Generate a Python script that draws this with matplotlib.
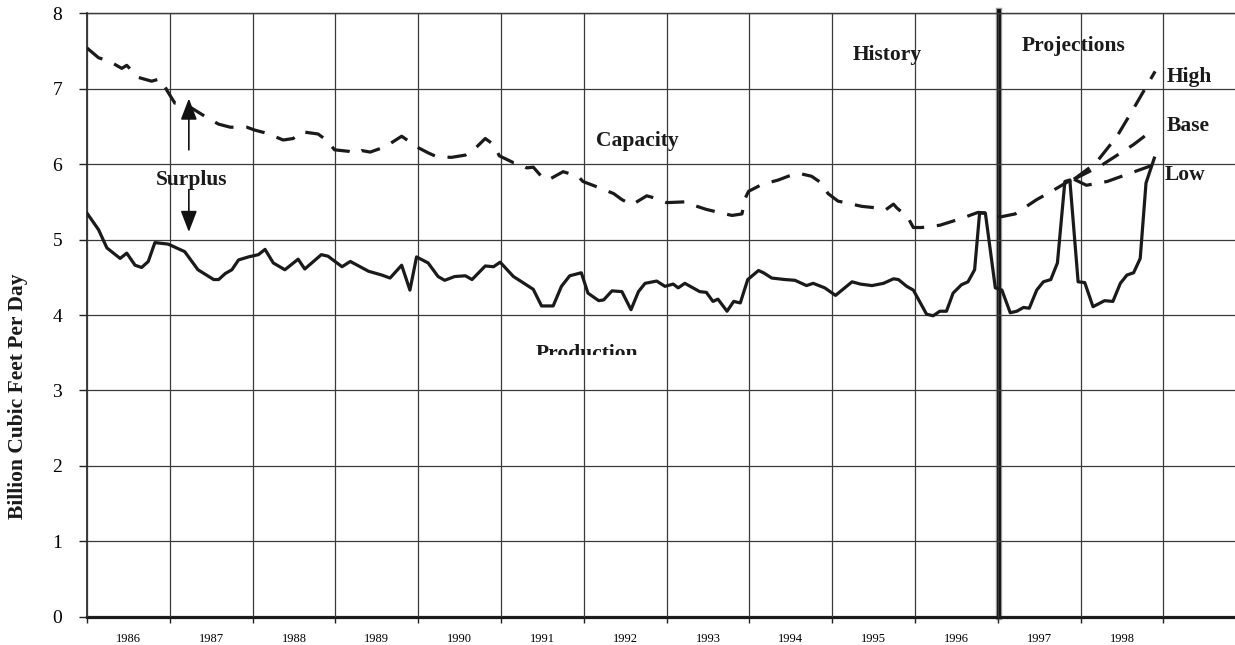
import matplotlib
matplotlib.use("Agg")
import matplotlib.pyplot as plt
from matplotlib.transforms import Bbox, TransformedBbox

plt.rcParams['font.family'] = ['Liberation Serif', 'DejaVu Serif']

# ---------------- data ----------------
prod_year = [1986.00, 1986.14, 1986.24, 1986.40, 1986.48, 1986.58, 1986.66, 1986.74, 1986.82, 1986.98,
             1987.10, 1987.18, 1987.34, 1987.53, 1987.59, 1987.67, 1987.75, 1987.83, 1987.95,
             1988.07, 1988.15, 1988.25, 1988.39, 1988.55, 1988.63, 1988.83, 1988.91,
             1989.08, 1989.18, 1989.40, 1989.56, 1989.66, 1989.80, 1989.90, 1989.98,
             1990.12, 1990.24, 1990.32, 1990.44, 1990.57, 1990.65, 1990.81, 1990.91, 1990.99,
             1991.15, 1991.25, 1991.39, 1991.49, 1991.63, 1991.73, 1991.83, 1991.97,
             1992.05, 1992.18, 1992.24, 1992.34, 1992.46, 1992.57, 1992.66, 1992.74, 1992.88, 1992.98,
             1993.08, 1993.14, 1993.22, 1993.40, 1993.48, 1993.56, 1993.62, 1993.73, 1993.81, 1993.89, 1993.98,
             1994.11, 1994.17, 1994.27, 1994.43, 1994.55, 1994.69, 1994.77, 1994.91,
             1995.04, 1995.24, 1995.34, 1995.48, 1995.62, 1995.74, 1995.80, 1995.90, 1995.98,
             1996.14, 1996.22, 1996.30, 1996.38, 1996.46, 1996.56, 1996.64, 1996.72, 1996.78, 1996.85, 1996.97,
             1997.05, 1997.15, 1997.23, 1997.31, 1997.38, 1997.47, 1997.55, 1997.64, 1997.72, 1997.81, 1997.87, 1997.97,
             1998.05, 1998.15, 1998.29, 1998.39, 1998.48, 1998.56, 1998.64, 1998.72, 1998.79, 1998.89]
prod_value = [5.35, 5.13, 4.89, 4.75, 4.82, 4.66, 4.63, 4.71, 4.96, 4.94,
              4.88, 4.84, 4.60, 4.47, 4.47, 4.55, 4.60, 4.73, 4.77,
              4.80, 4.87, 4.69, 4.60, 4.74, 4.61, 4.80, 4.78,
              4.64, 4.71, 4.58, 4.53, 4.49, 4.66, 4.33, 4.77,
              4.69, 4.51, 4.46, 4.51, 4.52, 4.47, 4.65, 4.64, 4.70,
              4.51, 4.44, 4.34, 4.12, 4.12, 4.38, 4.52, 4.56,
              4.29, 4.19, 4.20, 4.32, 4.31, 4.07, 4.31, 4.42, 4.45, 4.38,
              4.41, 4.36, 4.42, 4.31, 4.30, 4.18, 4.21, 4.05, 4.18, 4.16, 4.47,
              4.59, 4.56, 4.49, 4.47, 4.46, 4.39, 4.42, 4.36,
              4.26, 4.44, 4.41, 4.39, 4.42, 4.48, 4.47, 4.38, 4.33,
              4.01, 3.99, 4.05, 4.05, 4.29, 4.40, 4.44, 4.60, 5.35, 5.35, 4.36,
              4.33, 4.03, 4.05, 4.10, 4.09, 4.33, 4.44, 4.47, 4.69, 5.77, 5.79, 4.44,
              4.43, 4.11, 4.19, 4.18, 4.42, 4.53, 4.56, 4.75, 5.75, 6.08]

cap_year = [1986.00, 1986.14, 1986.26, 1986.42, 1986.48, 1986.62, 1986.78, 1986.88, 1986.92, 1986.97,
            1987.06, 1987.18, 1987.46, 1987.59, 1987.73, 1987.93,
            1988.03, 1988.17, 1988.37, 1988.49, 1988.59, 1988.79, 1988.89, 1988.99,
            1989.16, 1989.24, 1989.32, 1989.42, 1989.60, 1989.80, 1989.84, 1989.98,
            1990.12, 1990.22, 1990.40, 1990.57, 1990.68, 1990.81, 1990.91, 1990.98,
            1991.15, 1991.23, 1991.31, 1991.39, 1991.51, 1991.57, 1991.75, 1991.93, 1991.99,
            1992.18, 1992.36, 1992.46, 1992.58, 1992.76, 1992.86, 1993.00,
            1993.22, 1993.34, 1993.48, 1993.67, 1993.79, 1993.91, 1993.95, 1993.99,
            1994.15, 1994.35, 1994.47, 1994.59, 1994.75, 1994.87, 1994.95,
            1995.07, 1995.36, 1995.54, 1995.64, 1995.74, 1995.78, 1995.91, 1995.98,
            1996.08, 1996.30, 1996.56, 1996.76, 1996.91,
            1997.03, 1997.21, 1997.47, 1997.65, 1997.85, 1997.92]
cap_value = [7.54, 7.41, 7.37, 7.27, 7.31, 7.15, 7.10, 7.13, 7.07, 6.97,
             6.81, 6.80, 6.61, 6.53, 6.49, 6.49,
             6.45, 6.41, 6.32, 6.34, 6.43, 6.40, 6.32, 6.19,
             6.17, 6.14, 6.18, 6.16, 6.23, 6.37, 6.34, 6.23,
             6.15, 6.10, 6.09, 6.12, 6.20, 6.34, 6.26, 6.11,
             6.02, 6.01, 5.95, 5.96, 5.81, 5.79, 5.90, 5.84, 5.77,
             5.69, 5.61, 5.53, 5.46, 5.58, 5.55, 5.49,
             5.50, 5.45, 5.40, 5.35, 5.32, 5.34, 5.55, 5.64,
             5.73, 5.79, 5.84, 5.88, 5.84, 5.75, 5.61,
             5.51, 5.44, 5.42, 5.39, 5.47, 5.42, 5.30, 5.16,
             5.16, 5.19, 5.28, 5.36, 5.35,
             5.30, 5.34, 5.53, 5.64, 5.77, 5.80]

high_year = [1997.92, 1998.18, 1998.44, 1998.62, 1998.90]
high_value = [5.80, 6.01, 6.37, 6.70, 7.23]
base_year = [1997.92, 1998.26, 1998.64, 1998.88]
base_value = [5.80, 5.99, 6.26, 6.46]
low_year = [1997.92, 1998.07, 1998.32, 1998.60, 1998.88]
low_value = [5.80, 5.72, 5.77, 5.88, 5.99]

years = list(range(1986, 1999))
y_ticks = [0, 1, 2, 3, 4, 5, 6, 7, 8]
divider_year = 1997.02

# ---------------- figure ----------------
W, H = 1235, 645
fig = plt.figure(figsize=(W / 100, H / 100), dpi=100)
ax = fig.add_axes([87 / W, (H - 616.7) / H, (W - 87) / W, (616.7 - 13.3) / H])

ax.set_xlim(1986, 1986 + (W - 87) / 82.8)
ax.set_ylim(0, 8)

grid_color = '#3a3a3a'
ax.set_axisbelow(False)
ax.set_yticks(y_ticks)
ax.set_yticklabels([str(v) for v in y_ticks], fontsize=14)
ax.set_xticks(list(range(1986, 2000)))
ax.set_xticklabels([])
ax.set_xticks([y + 0.5 for y in years], minor=True)
ax.set_xticklabels([str(y) for y in years], minor=True, fontsize=9)
ax.tick_params(axis='y', direction='out', length=6, width=1, pad=12, color='#222222')
ax.tick_params(axis='x', which='major', direction='out', length=4, width=1, color='#222222')
ax.tick_params(axis='x', which='minor', length=0, pad=12)
ax.grid(True, which='major', color=grid_color, linewidth=0.9, zorder=1.5)

ax.spines['right'].set_visible(False)
ax.spines['top'].set_linewidth(1.0)
ax.spines['left'].set_linewidth(1.2)
ax.spines['bottom'].set_linewidth(2.3)
for s in ax.spines.values():
    s.set_color('#1a1a1a')

# divider between history and projections
ax.axvline(divider_year, ymin=0, ymax=1.003, color='#9a9a9a', lw=4.6, clip_on=False, zorder=2)
ax.axvline(divider_year, ymin=0, ymax=1.003, color='#111111', lw=2.8, clip_on=False, zorder=2.1)

line_kw = dict(color='#1a1a1a', lw=2.3, solid_joinstyle='round', zorder=3)
dash = (0, (6, 4))
ax.plot(prod_year, prod_value, **line_kw)
ax.plot(cap_year, cap_value, linestyle=dash, **line_kw)
ax.plot(high_year, high_value, linestyle=dash, **line_kw)
ax.plot(base_year, base_value, linestyle=dash, **line_kw)
ax.plot(low_year, low_value, linestyle=dash, **line_kw)

# labels
tk = dict(fontsize=15.5, fontweight='bold', color='#1a1a1a', ha='center', va='center', zorder=4)
ax.text(1987.26, 5.79, 'Surplus', **tk)
ax.text(1992.65, 6.31, 'Capacity', **tk)
ax.text(1995.67, 7.45, 'History', **tk)
ax.text(1997.91, 7.56, 'Projections', **tk)
ax.text(1999.31, 7.16, 'High', **tk)
ax.text(1999.30, 6.51, 'Base', **tk)
ax.text(1999.26, 5.86, 'Low', **tk)
t = ax.text(1992.04, 3.42, 'Production', fontsize=15.5, fontweight='bold', color='#1a1a1a',
            ha='center', va='baseline', zorder=4)
t.set_clip_box(TransformedBbox(Bbox([[1990.5, 3.47], [1994.0, 8]]), ax.transData))
t.set_clip_on(True)

# surplus arrows
akw = dict(arrowstyle='-|>,head_length=1.3,head_width=0.5', color='#111111', lw=1.2,
           shrinkA=0, shrinkB=0)
ax.annotate('', xy=(1987.23, 6.87), xytext=(1987.23, 6.19), arrowprops=akw, zorder=4)
ax.annotate('', xy=(1987.23, 5.10), xytext=(1987.23, 5.66), arrowprops=akw, zorder=4)

fig.text(18 / W, (H - 396) / H, 'Billion Cubic Feet Per Day', rotation=90, fontsize=15.5,
         fontweight='bold', ha='center', va='center', color='#1a1a1a')

fig.savefig('out.png', dpi=100)
